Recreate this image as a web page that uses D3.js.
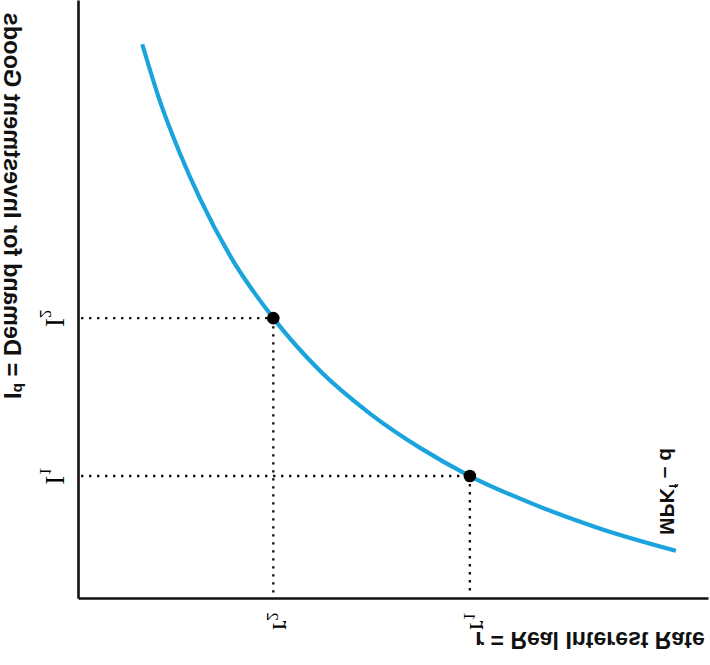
<!DOCTYPE html>
<html>
<head>
<meta charset="utf-8">
<script src="https://cdn.jsdelivr.net/npm/d3@7"></script>
<style>
  html, body { margin: 0; padding: 0; background: #fff; }
  svg { display: block; }
</style>
</head>
<body>
<div id="chart"></div>
<script>
// ---- data (x = r, y = I) ----
const curveR = [10.2, 13.0, 16.2, 19.4, 24.1, 31.0, 38.4, 46.4, 54.3, 62.2, 71.8, 82.9, 94.9];
const curveI = [92.6, 83.1, 74.3, 66.7, 57.3, 46.8, 38.0, 30.8, 25.1, 20.4, 15.9, 11.6, 7.9];
const pointNames = ["1", "2"];
const pointR = [62.2, 31.0];
const pointI = [20.4, 46.8];
const xTitle = "r = Real Interest Rate";
const yTitleMain = "I";
const yTitleSup = "d";
const yTitleRest = " = Demand for Investment Goods";
const curveLabel = ["MP", "K", "f", " \u2013 d"];

const W = 710, H = 665;
const svg = d3.select("#chart").append("svg").attr("width", W).attr("height", H);

const x = d3.scaleLinear().domain([0, 100]).range([78, 708]);
const y = d3.scaleLinear().domain([0, 100]).range([598, 0]);

// axes
svg.append("g").attr("transform", `translate(0,${y(0)})`)
  .call(d3.axisBottom(x).tickValues([]).tickSizeOuter(0));
svg.append("g").attr("transform", `translate(${x(0)},0)`)
  .call(d3.axisLeft(y).tickValues([]).tickSizeOuter(0));
svg.selectAll(".domain").attr("stroke", "#111").attr("stroke-width", 2.6);

// dotted guide lines
const pts = pointR.map((r, i) => ({ r, I: pointI[i], name: pointNames[i] }));
const guides = svg.append("g").attr("stroke", "#111").attr("stroke-width", 2.4)
  .attr("stroke-dasharray", "2.4,5.6").attr("fill", "none");
pts.forEach(p => {
  guides.append("line").attr("x1", x(0) + 3).attr("y1", y(p.I)).attr("x2", x(p.r)).attr("y2", y(p.I));
  guides.append("line").attr("x1", x(p.r)).attr("y1", y(p.I)).attr("x2", x(p.r)).attr("y2", y(0) - 2);
});

// curve
const line = d3.line().x(d => x(d[0])).y(d => y(d[1])).curve(d3.curveMonotoneX);
svg.append("path").datum(curveR.map((r, i) => [r, curveI[i]]))
  .attr("d", line).attr("fill", "none").attr("stroke", "#1aa3dc").attr("stroke-width", 4.2);

// points
svg.append("g").selectAll("circle").data(pts).join("circle")
  .attr("cx", d => x(d.r)).attr("cy", d => y(d.I)).attr("r", 6.3).attr("fill", "#000");

// orientation used by the picture's text
const flipRot = (px, py) => `translate(${px},${py}) rotate(-90) scale(1,-1)`;

// tick-style labels I1, I2 on the vertical axis
const serif = "'Liberation Serif', 'Times New Roman', serif";
pts.forEach(p => {
  const t = svg.append("text").attr("transform", flipRot(46, y(p.I)))
    .attr("text-anchor", "middle").attr("font-family", serif).attr("font-size", 27);
  t.append("tspan").text("I");
  t.append("tspan").attr("font-size", 17).attr("dy", 6).text(p.name);
});
// r1, r2 on the horizontal axis
pts.forEach(p => {
  const t = svg.append("text").attr("transform", flipRot(x(p.r), 621))
    .attr("text-anchor", "middle").attr("font-family", serif).attr("font-size", 27);
  t.append("tspan").text("r");
  t.append("tspan").attr("font-size", 17).attr("dy", 6).text(p.name);
});

// axis titles
const sans = "'Liberation Sans', Arial, sans-serif";
svg.append("text").attr("transform", `translate(${(475 + 705) / 2},632) scale(1,-1)`)
  .attr("text-anchor", "middle").attr("font-family", sans).attr("font-weight", "bold")
  .attr("font-size", 23).attr("fill", "#111").text(xTitle);

const yt = svg.append("text").attr("transform", flipRot(4, 399))
  .attr("text-anchor", "start").attr("font-family", sans).attr("font-weight", "bold")
  .attr("font-size", 23.6).attr("fill", "#111");
yt.append("tspan").text(yTitleMain);
yt.append("tspan").attr("font-size", 15.5).attr("dy", -9.5).text(yTitleSup);
yt.append("tspan").attr("dy", 9.5).text(yTitleRest);

// curve label
const cl = svg.append("text").attr("transform", flipRot(660, 535))
  .attr("text-anchor", "start").attr("font-family", sans).attr("font-weight", "bold")
  .attr("font-size", 21).attr("fill", "#111");
cl.append("tspan").text(curveLabel[0] + curveLabel[1]);
cl.append("tspan").attr("font-size", 13).attr("dy", -9).text(curveLabel[2]);
cl.append("tspan").attr("dy", 9).text(curveLabel[3]);
</script>
</body>
</html>
